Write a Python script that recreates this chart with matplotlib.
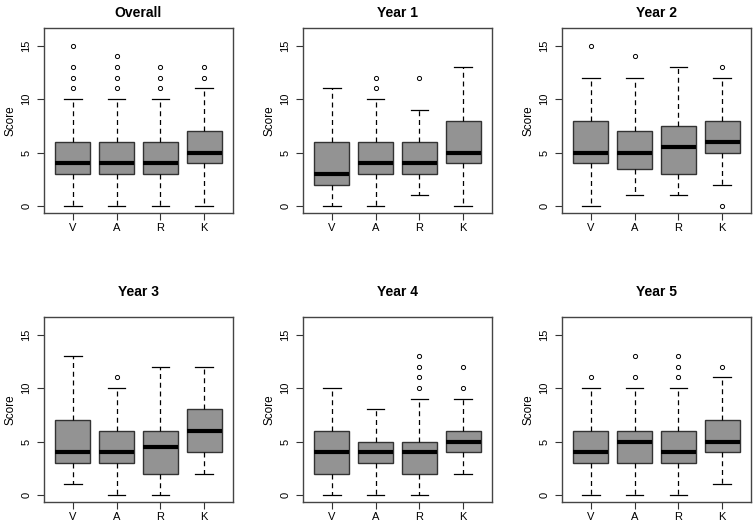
import matplotlib.pyplot as plt

plt.rcParams['font.family'] = ['Liberation Sans', 'DejaVu Sans']

labels = ["V", "A", "R", "K"]
titles = ["Overall", "Year 1", "Year 2", "Year 3", "Year 4", "Year 5"]

# per panel: rows of (whislo, q1, med, q3, whishi) for V, A, R, K
overall = [(0, 3, 4, 6, 10), (0, 3, 4, 6, 10), (0, 3, 4, 6, 10), (0, 4, 5, 7, 11)]
year1 = [(0, 2, 3, 6, 11), (0, 3, 4, 6, 10), (1, 3, 4, 6, 9), (0, 4, 5, 8, 13)]
year2 = [(0, 4, 5, 8, 12), (1, 3.5, 5, 7, 12), (1, 3, 5.5, 7.5, 13), (2, 5, 6, 8, 12)]
year3 = [(1, 3, 4, 7, 13), (0, 3, 4, 6, 10), (0, 2, 4.5, 6, 12), (2, 4, 6, 8, 12)]
year4 = [(0, 2, 4, 6, 10), (0, 3, 4, 5, 8), (0, 2, 4, 5, 9), (2, 4, 5, 6, 9)]
year5 = [(0, 3, 4, 6, 10), (0, 3, 5, 6, 10), (0, 3, 4, 6, 10), (1, 4, 5, 7, 11)]

overall_out = [[11, 12, 13, 15], [11, 12, 13, 14], [11, 12, 13], [12, 13]]
year1_out = [[], [11, 12], [12], []]
year2_out = [[15], [14], [], [0, 13]]
year3_out = [[], [11], [], []]
year4_out = [[], [], [10, 11, 12, 13], [10, 12]]
year5_out = [[11], [11, 13], [11, 12, 13], [12]]

panels = [overall, year1, year2, year3, year4, year5]
outliers = [overall_out, year1_out, year2_out, year3_out, year4_out, year5_out]

fig = plt.figure(figsize=(7.53, 5.23), dpi=100)

lefts = [0.0584, 0.4024, 0.7463]
bottoms = [0.5927, 0.0402]
w, h = 0.251, 0.3537

for i in range(6):
    r, c = divmod(i, 3)
    ax = fig.add_axes([lefts[c], bottoms[r], w, h])
    stats = []
    for lab, s, fl in zip(labels, panels[i], outliers[i]):
        stats.append(dict(label=lab, whislo=s[0], q1=s[1], med=s[2], q3=s[3],
                          whishi=s[4], fliers=fl))
    ax.bxp(stats, positions=[1, 2, 3, 4], widths=0.8, patch_artist=True,
           boxprops=dict(facecolor='#939393', edgecolor='#333333', linewidth=1),
           medianprops=dict(color='black', linewidth=3, solid_capstyle='butt'),
           whiskerprops=dict(color='black', linestyle=(0, (4, 3)), linewidth=0.9),
           capprops=dict(color='black', linewidth=0.9),
           flierprops=dict(marker='o', markersize=3, markerfacecolor='none',
                           markeredgecolor='black', markeredgewidth=0.7))
    ax.set_xlim(0.34, 4.66)
    ax.set_ylim(-0.64, 16.64)
    ax.set_yticks([0, 5, 10, 15])
    ax.set_yticklabels(['0', '5', '10', '15'], rotation=90, va='center')
    ax.tick_params(axis='both', labelsize=8, length=5, width=0.8, color='#333333')
    ax.tick_params(axis='y', pad=4)
    ax.tick_params(axis='x', pad=2.5)
    ax.set_ylabel('Score', fontsize=8.5)
    ax.yaxis.set_label_coords(-0.146, 0.5)
    for sp in ax.spines.values():
        sp.set_color('#444444')
        sp.set_linewidth(1)
    pad = 8 if r == 0 else 15
    ax.set_title(titles[i], fontsize=10, fontweight='bold', pad=pad)

fig.savefig('out.png', dpi=100)
